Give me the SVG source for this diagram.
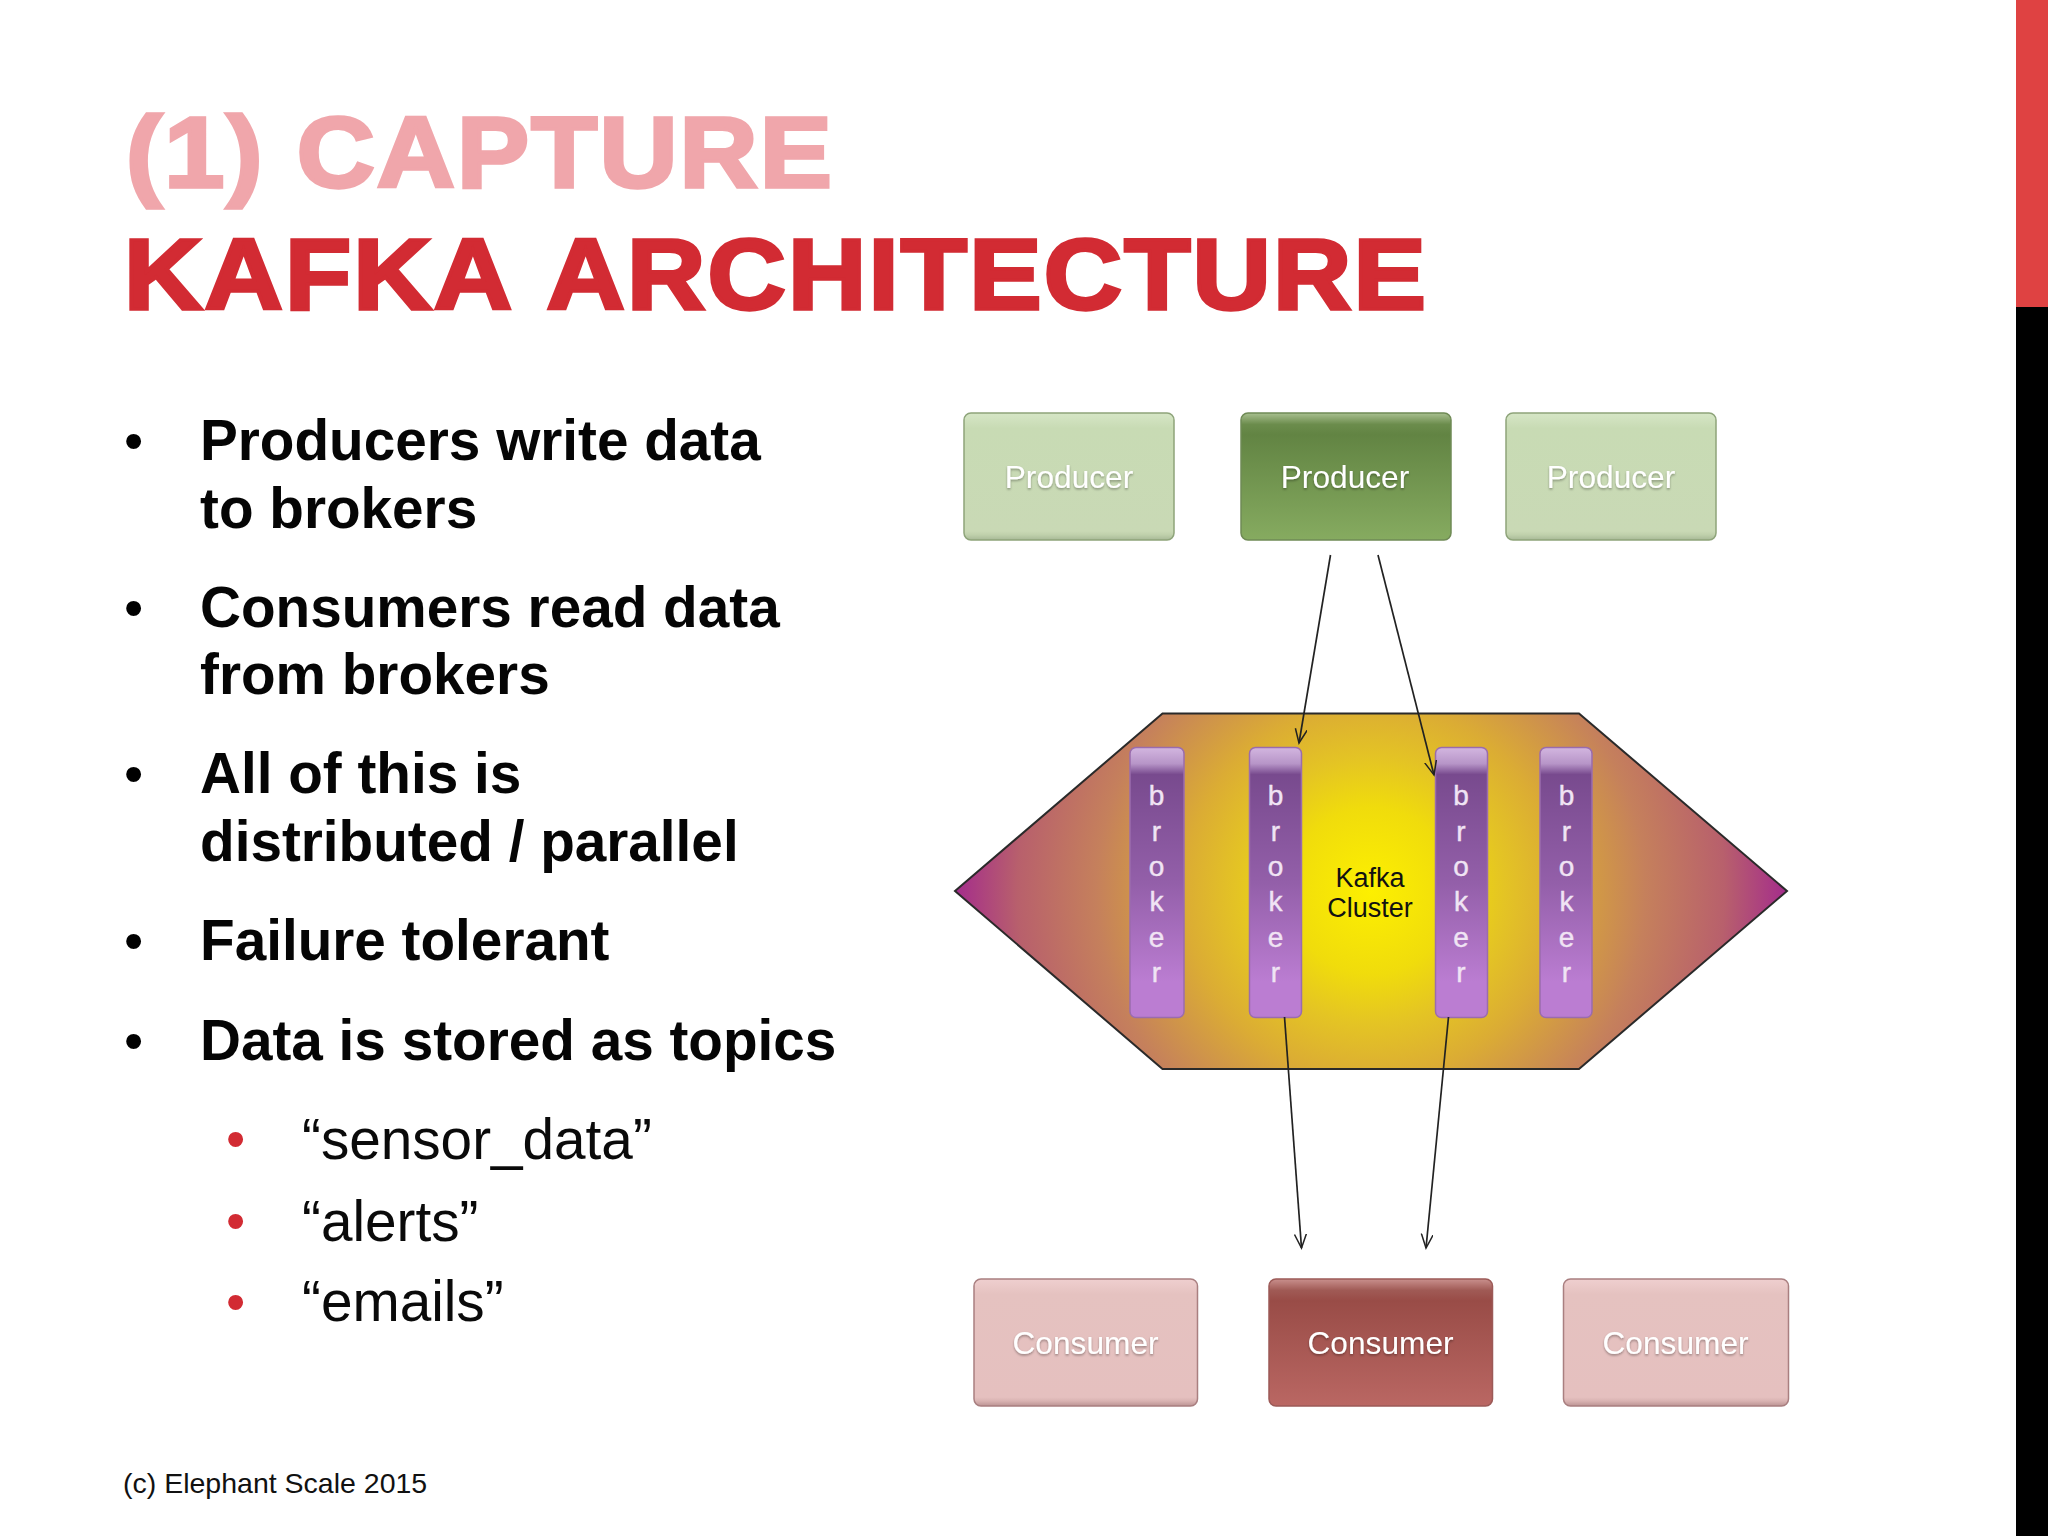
<svg xmlns="http://www.w3.org/2000/svg" width="2048" height="1536" viewBox="0 0 2048 1536">
<defs>
<linearGradient id="gp" x1="0" y1="0" x2="0" y2="1"><stop offset="0" stop-color="#a9c090"/><stop offset=".09" stop-color="#6b8c4c"/><stop offset=".17" stop-color="#628443"/><stop offset="1" stop-color="#86ab60"/></linearGradient>
<linearGradient id="gpl" x1="0" y1="0" x2="0" y2="1"><stop offset="0" stop-color="#d6e6c6"/><stop offset=".12" stop-color="#c8dbb4"/><stop offset=".93" stop-color="#c9d9b5"/><stop offset=".96" stop-color="#bfd0ab"/><stop offset="1" stop-color="#a7b997"/></linearGradient>
<linearGradient id="gc" x1="0" y1="0" x2="0" y2="1"><stop offset="0" stop-color="#c9908d"/><stop offset=".09" stop-color="#a05a55"/><stop offset=".17" stop-color="#994c47"/><stop offset="1" stop-color="#ba6763"/></linearGradient>
<linearGradient id="gcl" x1="0" y1="0" x2="0" y2="1"><stop offset="0" stop-color="#efcfcf"/><stop offset=".12" stop-color="#e5c2c0"/><stop offset=".93" stop-color="#e5c0bf"/><stop offset=".96" stop-color="#d9b3b2"/><stop offset="1" stop-color="#bc9494"/></linearGradient>
<linearGradient id="gb" x1="0" y1="0" x2="0" y2="1"><stop offset="0" stop-color="#d3b6e0"/><stop offset=".06" stop-color="#b795c8"/><stop offset=".1" stop-color="#784a8e"/><stop offset=".5" stop-color="#935fa9"/><stop offset=".87" stop-color="#bb7dd2"/><stop offset="1" stop-color="#bb7dd2"/></linearGradient>
<radialGradient id="gh" gradientUnits="userSpaceOnUse" cx="1371" cy="891" r="416"><stop offset="0" stop-color="#fdf000"/><stop offset=".2" stop-color="#f0dc0c"/><stop offset=".32" stop-color="#e4c424"/><stop offset=".45" stop-color="#dbac34"/><stop offset=".66" stop-color="#c5805c"/><stop offset=".85" stop-color="#b8606c"/><stop offset="1" stop-color="#a42c8c"/></radialGradient>
<marker id="ah" markerUnits="userSpaceOnUse" markerWidth="16" markerHeight="22" refX="14" refY="6" orient="auto"><path d="M0 0L14 6L0 12" fill="none" stroke="#222" stroke-width="1.500"/></marker>
<filter id="sh" x="-10%" y="-20%" width="120%" height="150%"><feDropShadow dx="0" dy="1.500" stdDeviation="1" flood-color="#000" flood-opacity=".35"/></filter>
</defs>
<style>
.sans{font-family:"Liberation Sans",Arial,sans-serif}
.title{font-family:"Liberation Sans",Arial,sans-serif;font-weight:700;font-size:100px;stroke-width:3.500;font-kerning:none;letter-spacing:2px}
.b{font-family:"Liberation Sans",Arial,sans-serif;font-weight:700;font-size:56.700px;fill:#050505}
.s{font-family:"Liberation Sans",Arial,sans-serif;font-size:56.700px;fill:#0a0a0a}
.dot{font-family:"Liberation Sans",Arial,sans-serif;font-size:55px}
.lab{font-family:"Liberation Sans",Arial,sans-serif;font-size:31.700px;fill:#fff;text-anchor:middle;filter:url(#sh)}
.let{font-family:"Liberation Sans",Arial,sans-serif;font-size:28px;fill:#f0e4f4;text-anchor:middle;stroke:#f0e4f4;stroke-width:.4}
.kc{font-family:"Liberation Sans",Arial,sans-serif;font-size:27px;fill:#111;text-anchor:middle}
.conn{stroke:#222;stroke-width:1.700;fill:none;marker-end:url(#ah)}
.box{stroke-width:1.500}
</style>
<rect width="2048" height="1536" fill="#fff"/>
<rect x="2016" width="32" height="307" fill="#df4242"/>
<rect x="2016" y="307" width="32" height="1229" fill="#000"/>
<text class="title" x="126" y="187" fill="#f0a6ab" stroke="#f0a6ab" textLength="708" lengthAdjust="spacingAndGlyphs">(1) CAPTURE</text>
<text class="title" x="124" y="309" fill="#d22b33" stroke="#d22b33" textLength="1304" lengthAdjust="spacingAndGlyphs">KAFKA ARCHITECTURE</text>
<g>
<text class="dot" x="124" y="460">•</text><text class="b" x="200" y="460">Producers write data</text><text class="b" x="200" y="528">to brokers</text>
<text class="dot" x="124" y="627">•</text><text class="b" x="200" y="627">Consumers read data</text><text class="b" x="200" y="694">from brokers</text>
<text class="dot" x="124" y="793">•</text><text class="b" x="200" y="793">All of this is</text><text class="b" x="200" y="861">distributed / parallel</text>
<text class="dot" x="124" y="960">•</text><text class="b" x="200" y="960">Failure tolerant</text>
<text class="dot" x="124" y="1060">•</text><text class="b" x="200" y="1060">Data is stored as topics</text>
<text class="dot" x="226" y="1158" fill="#d22b33">•</text><text class="s" x="302" y="1159">“sensor_data”</text>
<text class="dot" x="226" y="1240" fill="#d22b33">•</text><text class="s" x="302" y="1241">“alerts”</text>
<text class="dot" x="226" y="1321" fill="#d22b33">•</text><text class="s" x="302" y="1321">“emails”</text>
</g>
<text class="sans" x="123" y="1493" font-size="28.500" fill="#111">(c) Elephant Scale 2015</text>
<g id="producer1"><rect class="box" x="964" y="413" width="210" height="127" rx="7" fill="url(#gpl)" stroke="#8ea47a"/><text class="lab" x="1069" y="488">Producer</text></g>
<g id="producer2"><rect class="box" x="1241" y="413" width="210" height="127" rx="7" fill="url(#gp)" stroke="#6f8a55"/><text class="lab" x="1345" y="488">Producer</text></g>
<g id="producer3"><rect class="box" x="1506" y="413" width="210" height="127" rx="7" fill="url(#gpl)" stroke="#8ea47a"/><text class="lab" x="1611" y="488">Producer</text></g>
<g id="cluster"><polygon points="955,891 1162.500,713.500 1579,713.500 1787,891 1579,1069 1162.500,1069" fill="url(#gh)" stroke="#2a2a2a" stroke-width="2"/><text class="kc" x="1370" y="887">Kafka</text><text class="kc" x="1370" y="917">Cluster</text></g>
<g id="broker1"><rect class="box" x="1130" y="747.500" width="54" height="270" rx="6" fill="url(#gb)" stroke="#9a6cad"/><text class="let"><tspan x="1156.500" y="805">b</tspan><tspan x="1156.500" y="840.500">r</tspan><tspan x="1156.500" y="876">o</tspan><tspan x="1156.500" y="911">k</tspan><tspan x="1156.500" y="946.500">e</tspan><tspan x="1156.500" y="982">r</tspan></text></g>
<g id="broker2"><rect class="box" x="1249.500" y="747.500" width="52" height="270" rx="6" fill="url(#gb)" stroke="#9a6cad"/><text class="let"><tspan x="1275.500" y="805">b</tspan><tspan x="1275.500" y="840.500">r</tspan><tspan x="1275.500" y="876">o</tspan><tspan x="1275.500" y="911">k</tspan><tspan x="1275.500" y="946.500">e</tspan><tspan x="1275.500" y="982">r</tspan></text></g>
<g id="broker3"><rect class="box" x="1435.500" y="747.500" width="52" height="270" rx="6" fill="url(#gb)" stroke="#9a6cad"/><text class="let"><tspan x="1461" y="805">b</tspan><tspan x="1461" y="840.500">r</tspan><tspan x="1461" y="876">o</tspan><tspan x="1461" y="911">k</tspan><tspan x="1461" y="946.500">e</tspan><tspan x="1461" y="982">r</tspan></text></g>
<g id="broker4"><rect class="box" x="1540" y="747.500" width="52" height="270" rx="6" fill="url(#gb)" stroke="#9a6cad"/><text class="let"><tspan x="1566.500" y="805">b</tspan><tspan x="1566.500" y="840.500">r</tspan><tspan x="1566.500" y="876">o</tspan><tspan x="1566.500" y="911">k</tspan><tspan x="1566.500" y="946.500">e</tspan><tspan x="1566.500" y="982">r</tspan></text></g>
<g id="consumer1"><rect class="box" x="974" y="1279" width="223.500" height="127" rx="7" fill="url(#gcl)" stroke="#a97f80"/><text class="lab" x="1085.500" y="1354">Consumer</text></g>
<g id="consumer2"><rect class="box" x="1269" y="1279" width="223.500" height="127" rx="7" fill="url(#gc)" stroke="#9c5a57"/><text class="lab" x="1380.500" y="1354">Consumer</text></g>
<g id="consumer3"><rect class="box" x="1563.500" y="1279" width="225" height="127" rx="7" fill="url(#gcl)" stroke="#a97f80"/><text class="lab" x="1675.500" y="1354">Consumer</text></g>
<g id="connectors">
<line class="conn" x1="1330.500" y1="555" x2="1299" y2="743"/>
<line class="conn" x1="1378" y1="555" x2="1434" y2="775"/>
<line class="conn" x1="1284.500" y1="1017" x2="1301.500" y2="1248"/>
<line class="conn" x1="1448.500" y1="1017" x2="1426" y2="1248"/>
</g>
</svg>
